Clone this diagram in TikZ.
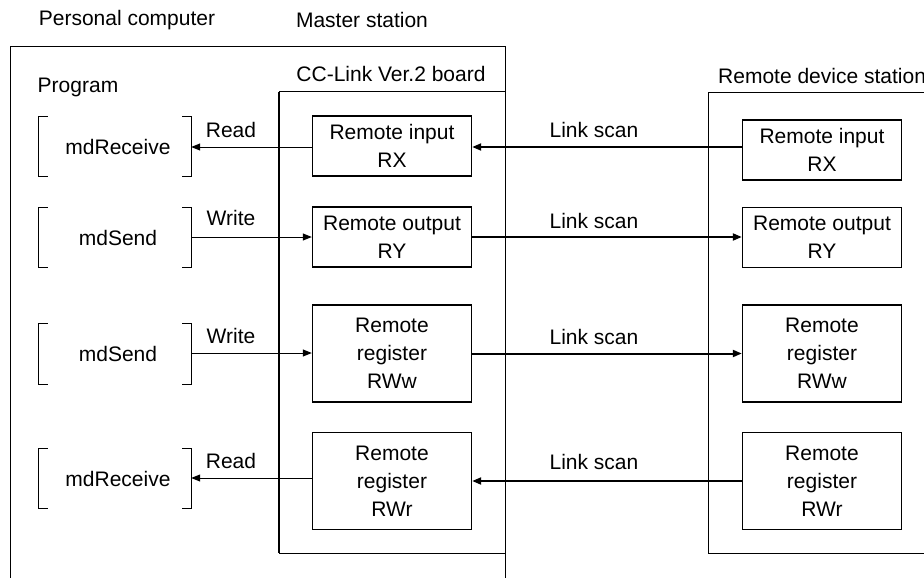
\documentclass[tikz,border=0pt]{standalone}
\usepackage{fontspec}
\setmainfont{Liberation Sans}
\usetikzlibrary{arrows.meta}
\tikzset{
    regbox/.style={draw, line width=1.4pt, minimum width=159pt, align=center, inner sep=2pt},
    progbox/.style={minimum width=152pt, minimum height=60pt, inner sep=0pt},
    rwline/.style={line width=1pt, -{Triangle[length=9pt,width=7pt]}},
    scanline/.style={line width=2pt, -{Triangle[length=9pt,width=7pt]}},
    lbl/.style={inner sep=0pt}
}

\begin{document}
\begin{tikzpicture}[x=1pt, y=-1pt, font=\fontsize{21}{28}\selectfont]
    \useasboundingbox (0,0) rectangle (924,578);

    % frames
    \draw[line width=1pt] (10,578) -- (10,47) -- (505,47) -- (505,578);
    \draw[line width=1pt] (505,92) -- (279,92);
    \draw[line width=1pt] (279,553) -- (505,553);
    \draw[line width=1.8pt] (279,92) -- (279,553);
    \draw[line width=1pt] (924,93) -- (708,93) -- (708,553) -- (924,553);

    % titles
    \node[lbl] (pctitle) at (127,20) {Personal computer};
    \node[lbl] (mstitle) at (362,20) {Master station};
    \node[lbl] (bdtitle) at (391,74) {CC-Link Ver.2 board};
    \node[lbl] (prtitle) at (78,87) {Program};
    \node[lbl, anchor=west] (rdtitle) at (718,76) {Remote device station};

    % program calls
    \node[progbox] (p1) at (115,146.5) {\hspace{6pt}mdReceive};
    \node[progbox] (p2) at (115,237.5) {\hspace{6pt}mdSend};
    \node[progbox] (p3) at (115,354) {\hspace{6pt}mdSend};
    \node[progbox] (p4) at (115,478.5) {\hspace{6pt}mdReceive};
    \foreach \n in {p1,p2,p3,p4} {
        \draw[line width=1pt] ([xshift=9pt]\n.north west) -| (\n.south west) -- ([xshift=9pt]\n.south west);
        \draw[line width=1pt] ([xshift=-9pt]\n.north east) -| (\n.south east) -- ([xshift=-9pt]\n.south east);
    }

    % master station buffers
    \node[regbox, minimum height=60pt] (mrx) at (392,146) {Remote input\\RX};
    \node[regbox, minimum height=60pt] (mry) at (392,237) {Remote output\\RY};
    \node[regbox, minimum height=97pt] (mrww) at (392,353.5) {Remote\\register\\RWw};
    \node[regbox, minimum height=97pt] (mrwr) at (392,481) {Remote\\register\\RWr};

    % remote device station buffers
    \node[regbox, minimum height=60pt] (rrx) at (822,150) {Remote input\\RX};
    \node[regbox, minimum height=60pt] (rry) at (822,237.5) {Remote output\\RY};
    \node[regbox, minimum height=97pt] (rrww) at (822,353.5) {Remote\\register\\RWw};
    \node[regbox, minimum height=97pt] (rrwr) at (822,481) {Remote\\register\\RWr};

    % read / write
    \draw[rwline] (mrx.west |- 0,147) -- (p1.east |- 0,147);
    \draw[rwline] (p2.east |- 0,237) -- (mry.west |- 0,237);
    \draw[rwline] (p3.east |- 0,353) -- (mrww.west |- 0,353);
    \draw[rwline] (mrwr.west |- 0,478) -- (p4.east |- 0,478);
    \node[lbl] (rd1) at (231,130) {Read};
    \node[lbl] (wr2) at (231,218) {Write};
    \node[lbl] (wr3) at (231,336) {Write};
    \node[lbl] (rd4) at (231,461) {Read};

    % link scan
    \draw[scanline] (rrx.west |- 0,147) -- (mrx.east |- 0,147);
    \draw[scanline] (mry.east) -- (rry.west |- mry.east);
    \draw[scanline] (mrww.east) -- (rrww.west);
    \draw[scanline] (rrwr.west) -- (mrwr.east);
    \node[lbl] (ls1) at (594,130) {Link scan};
    \node[lbl] (ls2) at (594,221) {Link scan};
    \node[lbl] (ls3) at (594,337) {Link scan};
    \node[lbl] (ls4) at (594,462) {Link scan};
\end{tikzpicture}
\end{document}
